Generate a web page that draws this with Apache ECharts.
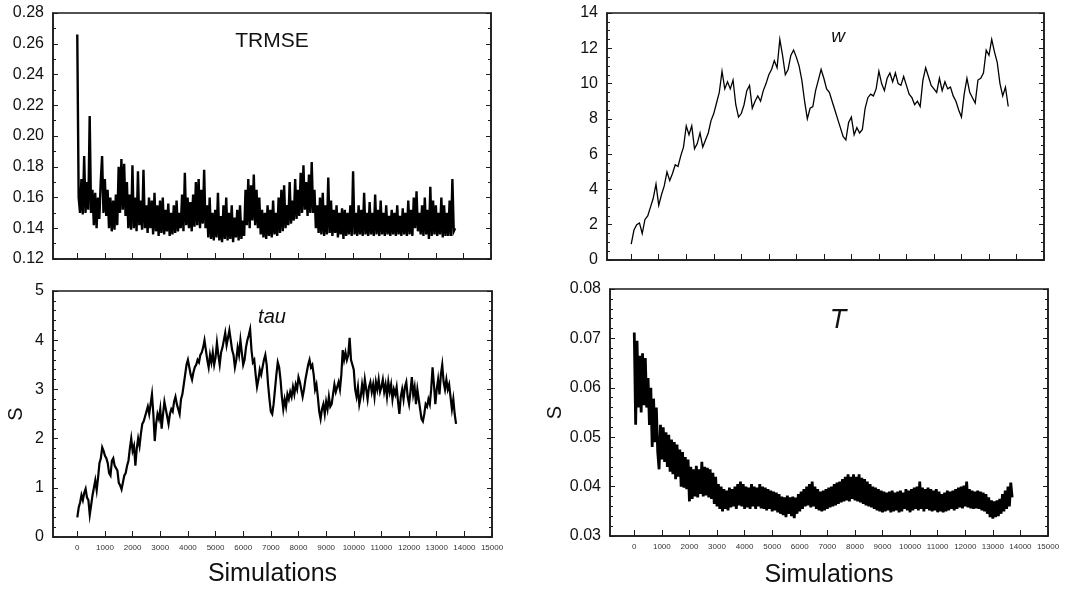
<!DOCTYPE html>
<html><head><meta charset="utf-8">
<script src="https://cdn.jsdelivr.net/npm/echarts@6/dist/echarts.min.js"></script>
<style>html,body{margin:0;padding:0;background:#fff}#c{width:1083px;height:589px}</style>
</head><body><div id="c"></div>
<script>
// ---------- data ----------
const xTickValues = [0,1000,2000,3000,4000,5000,6000,7000,8000,9000,10000,11000,12000,13000,14000,15000];
const sampleStep = 50;   // simulations between TRMSE / tau / T samples
const wStep = 100;       // simulations between w samples

const trmse = [
0.266,0.160,0.150,0.172,0.149,0.187,0.150,0.170,0.152,0.213,
0.150,0.165,0.142,0.163,0.140,0.160,0.146,0.170,0.187,0.150,
0.172,0.148,0.165,0.140,0.160,0.138,0.158,0.139,0.162,0.142,
0.180,0.150,0.185,0.152,0.182,0.148,0.170,0.140,0.162,0.139,
0.181,0.140,0.160,0.138,0.177,0.142,0.158,0.139,0.178,0.140,
0.155,0.137,0.160,0.140,0.158,0.136,0.163,0.138,0.155,0.135,
0.158,0.137,0.160,0.136,0.152,0.138,0.156,0.135,0.150,0.136,
0.155,0.137,0.158,0.138,0.150,0.140,0.162,0.138,0.176,0.142,
0.160,0.140,0.157,0.138,0.162,0.141,0.170,0.142,0.172,0.140,
0.165,0.143,0.178,0.140,0.155,0.134,0.160,0.133,0.150,0.132,
0.152,0.134,0.163,0.132,0.148,0.131,0.155,0.133,0.160,0.132,
0.150,0.133,0.155,0.131,0.147,0.134,0.152,0.132,0.155,0.133,
0.145,0.135,0.165,0.142,0.172,0.140,0.168,0.145,0.175,0.142,
0.165,0.140,0.160,0.136,0.152,0.134,0.150,0.133,0.155,0.135,
0.152,0.134,0.158,0.136,0.150,0.135,0.160,0.137,0.165,0.138,
0.168,0.140,0.155,0.142,0.170,0.143,0.158,0.145,0.172,0.146,
0.165,0.148,0.176,0.150,0.181,0.152,0.170,0.148,0.175,0.150,
0.183,0.150,0.165,0.140,0.155,0.137,0.160,0.136,0.163,0.135,
0.155,0.136,0.173,0.137,0.158,0.135,0.152,0.137,0.155,0.134,
0.150,0.136,0.153,0.133,0.152,0.135,0.150,0.136,0.155,0.135,
0.177,0.136,0.150,0.135,0.155,0.136,0.152,0.135,0.163,0.136,
0.150,0.135,0.157,0.136,0.150,0.135,0.162,0.136,0.152,0.135,
0.158,0.136,0.150,0.135,0.155,0.136,0.148,0.135,0.152,0.136,
0.150,0.135,0.155,0.136,0.148,0.135,0.153,0.136,0.150,0.135,
0.158,0.136,0.152,0.135,0.160,0.140,0.164,0.138,0.150,0.136,
0.155,0.135,0.160,0.136,0.152,0.133,0.167,0.135,0.158,0.136,
0.155,0.135,0.150,0.136,0.160,0.134,0.155,0.135,0.150,0.135,
0.158,0.135,0.172,0.138,0.140
];

const w = [
0.9,1.7,2.0,2.1,1.5,2.3,2.5,3.0,3.5,4.3,
3.1,3.7,4.2,5.0,4.5,4.9,5.4,5.3,5.9,6.4,
7.6,7.1,7.6,6.3,6.6,7.2,6.4,6.8,7.2,7.9,
8.3,8.9,9.5,10.7,9.7,10.1,9.7,10.2,8.8,8.1,
8.3,8.8,9.6,9.9,8.6,9.0,9.3,9.0,9.6,10.0,
10.5,10.8,11.3,10.9,12.5,11.6,10.5,10.8,11.6,11.9,
11.5,11.0,10.2,9.0,8.0,8.6,8.7,9.6,10.2,10.8,
10.3,9.7,9.5,9.0,8.5,8.0,7.5,7.0,6.8,7.8,
8.1,7.1,7.5,7.2,7.4,8.6,9.2,9.4,9.3,9.7,
10.7,10.0,9.6,10.3,10.6,10.1,10.6,10.0,9.9,10.4,
9.9,9.4,9.2,8.8,9.0,8.7,10.2,10.9,10.4,9.9,
9.7,9.5,10.3,9.6,10.1,9.7,9.8,9.3,9.0,8.5,
8.1,9.4,10.3,9.5,9.2,8.9,10.2,10.3,10.6,11.9,
11.6,12.5,11.8,11.2,10.0,9.3,9.8,8.7
];

const tau = [
0.40,0.60,0.70,0.85,0.75,0.90,0.98,0.80,0.75,0.45,
0.65,0.85,1.00,1.15,0.95,1.20,1.50,1.60,1.82,1.75,
1.65,1.60,1.50,1.30,1.25,1.55,1.60,1.45,1.40,1.35,
1.10,1.05,0.97,1.00,1.25,1.30,1.45,1.55,1.80,2.00,
1.75,1.85,1.45,1.80,2.00,1.85,2.10,2.30,2.35,2.45,
2.55,2.65,2.50,2.70,2.90,2.50,1.95,2.30,2.50,2.40,
2.60,2.20,2.50,2.75,2.60,2.45,2.30,2.50,2.60,2.55,
2.75,2.85,2.70,2.60,2.50,2.80,2.90,3.10,3.30,3.50,
3.60,3.45,3.30,3.20,3.35,3.45,3.50,3.60,3.55,3.70,
3.75,3.85,4.00,3.80,3.60,3.45,3.70,3.55,3.75,3.50,
3.65,3.95,3.70,3.50,3.75,3.85,4.00,4.15,3.90,4.05,
4.20,4.00,3.80,3.70,3.45,3.60,3.85,3.70,4.00,3.75,
3.50,3.60,3.85,4.00,4.10,4.22,3.80,3.55,3.60,3.30,
3.05,3.20,3.40,3.30,3.45,3.60,3.70,3.50,3.10,2.80,
2.55,2.50,2.70,3.00,3.30,3.55,3.45,3.20,2.85,2.60,
2.80,2.65,2.90,2.80,2.95,2.85,3.05,2.90,3.10,3.00,
3.25,3.15,3.00,2.85,3.00,3.20,3.35,3.50,3.60,3.45,
3.50,3.30,3.00,3.10,2.85,2.55,2.40,2.60,2.70,2.50,
2.75,2.60,2.85,2.65,2.70,2.90,3.10,2.95,3.05,3.15,
3.00,3.30,3.80,3.60,3.75,3.60,3.70,4.05,3.60,3.50,
3.40,3.00,2.85,3.05,2.70,2.85,3.10,2.90,3.20,3.00,
2.80,3.05,3.15,2.95,3.10,2.85,3.15,3.00,3.20,2.95,
3.05,3.20,2.95,3.10,2.85,3.15,2.95,3.10,2.80,3.00,
2.90,3.05,2.75,2.50,2.85,3.00,2.80,3.05,3.15,2.85,
2.70,2.95,3.25,2.90,3.05,2.70,3.00,2.80,2.60,2.40,
2.35,2.50,2.70,2.65,2.80,2.70,3.00,3.45,3.10,2.70,
3.00,3.20,2.90,3.30,3.50,3.15,3.00,3.20,3.00,3.10,
2.85,2.60,2.80,2.50,2.30
];

const Tvals = [
0.0712,0.0525,0.0695,0.0560,0.0665,0.0550,0.0670,0.0565,0.0660,0.0560,
0.0620,0.0525,0.0600,0.0480,0.0578,0.0490,0.0560,0.0470,0.0435,0.0525,
0.0455,0.0520,0.0450,0.0510,0.0440,0.0505,0.0430,0.0495,0.0425,0.0490,
0.0415,0.0485,0.0420,0.0475,0.0400,0.0470,0.0398,0.0460,0.0395,0.0455,
0.0370,0.0440,0.0375,0.0435,0.0380,0.0442,0.0378,0.0435,0.0385,0.0450,
0.0380,0.0440,0.0382,0.0438,0.0378,0.0435,0.0375,0.0428,0.0365,0.0420,
0.0360,0.0405,0.0355,0.0400,0.0350,0.0395,0.0355,0.0392,0.0352,0.0398,
0.0358,0.0395,0.0360,0.0400,0.0355,0.0405,0.0362,0.0410,0.0360,0.0405,
0.0355,0.0400,0.0358,0.0398,0.0355,0.0405,0.0360,0.0400,0.0355,0.0398,
0.0360,0.0405,0.0356,0.0400,0.0355,0.0398,0.0352,0.0395,0.0355,0.0392,
0.0350,0.0390,0.0352,0.0388,0.0348,0.0385,0.0345,0.0380,0.0342,0.0378,
0.0338,0.0382,0.0345,0.0378,0.0340,0.0380,0.0336,0.0378,0.0345,0.0385,
0.0350,0.0390,0.0355,0.0395,0.0360,0.0400,0.0362,0.0405,0.0358,0.0410,
0.0360,0.0400,0.0355,0.0395,0.0352,0.0390,0.0350,0.0392,0.0352,0.0395,
0.0355,0.0398,0.0358,0.0400,0.0360,0.0405,0.0362,0.0408,0.0365,0.0410,
0.0368,0.0415,0.0370,0.0420,0.0372,0.0425,0.0370,0.0420,0.0375,0.0425,
0.0372,0.0420,0.0370,0.0425,0.0368,0.0418,0.0365,0.0415,0.0362,0.0410,
0.0360,0.0405,0.0358,0.0400,0.0355,0.0398,0.0352,0.0395,0.0350,0.0392,
0.0348,0.0390,0.0350,0.0388,0.0352,0.0390,0.0348,0.0392,0.0350,0.0388,
0.0352,0.0390,0.0348,0.0392,0.0350,0.0388,0.0355,0.0395,0.0352,0.0392,
0.0348,0.0395,0.0352,0.0398,0.0355,0.0400,0.0352,0.0410,0.0355,0.0398,
0.0350,0.0395,0.0355,0.0398,0.0352,0.0395,0.0350,0.0392,0.0352,0.0395,
0.0348,0.0390,0.0350,0.0385,0.0348,0.0388,0.0350,0.0392,0.0352,0.0390,
0.0355,0.0392,0.0352,0.0395,0.0355,0.0398,0.0358,0.0400,0.0356,0.0402,
0.0360,0.0410,0.0358,0.0395,0.0356,0.0392,0.0355,0.0390,0.0356,0.0392,
0.0355,0.0390,0.0352,0.0388,0.0350,0.0385,0.0345,0.0378,0.0338,0.0372,
0.0335,0.0370,0.0338,0.0372,0.0340,0.0375,0.0345,0.0385,0.0350,0.0392,
0.0355,0.0400,0.0360,0.0408,0.0378
];

const panelTitles = ['TRMSE', 'w', 'tau', 'T'];
const yAxisName = 'S';
const xAxisName = 'Simulations';

// ---------- chart ----------
const FONT = '"Liberation Sans", Arial, sans-serif';
const INK = '#1a1a1a';

const grids = [
  {left: 53, top: 13, width: 438, height: 246},
  {left: 607, top: 13, width: 437, height: 247},
  {left: 53, top: 291, width: 439, height: 246},
  {left: 610, top: 289, width: 438, height: 248}
].map(g => Object.assign({show: true, borderColor: INK, borderWidth: 1.5, containLabel: false}, g));

function xAx(gi, bottomRow, gap) {
  return {
    type: 'value', gridIndex: gi, min: -880, max: 15000,
    axisLine: {show: true, onZero: false, lineStyle: {color: INK, width: 1.5}},
    axisTick: {show: true, inside: true, length: 6, customValues: xTickValues, lineStyle: {color: INK, width: 1}},
    axisLabel: {show: bottomRow, customValues: xTickValues, fontSize: 8, color: '#333', margin: 7,
      fontFamily: FONT, formatter: v => String(v)},
    splitLine: {show: false},
    name: bottomRow ? xAxisName : '', nameLocation: 'middle', nameGap: gap,
    nameTextStyle: {fontSize: 25, color: '#111', fontFamily: FONT}
  };
}
function yAx(gi, min, max, interval, minorSplit, fmt, withName, nameGap, right) {
  return {
    type: 'value', gridIndex: gi, min, max, interval, position: right ? 'right' : 'left',
    axisLine: {show: true, onZero: false, lineStyle: {color: INK, width: 1.5}},
    axisTick: {show: true, inside: true, length: 5, lineStyle: {color: INK, width: 1}},
    minorTick: {show: true, splitNumber: minorSplit, length: 3, lineStyle: {color: INK, width: 1}},
    axisLabel: {show: !right, fontSize: 16, color: '#111', margin: 9, fontFamily: FONT, formatter: fmt},
    splitLine: {show: false}, minorSplitLine: {show: false},
    name: withName ? yAxisName : '', nameLocation: 'middle', nameGap: nameGap,
    nameTextStyle: {fontSize: 20, color: '#111', fontFamily: FONT}
  };
}
const f2 = v => v.toFixed(2);
const f0 = v => String(Math.round(v));

const yAxes = [
  yAx(0, 0.12, 0.28, 0.02, 2, f2, false, 0, false),
  yAx(1, 0, 14, 2, 4, f0, false, 0, false),
  yAx(2, 0, 5, 1, 5, f0, true, 27, false),
  yAx(3, 0.03, 0.08, 0.01, 5, f2, true, 44, false),
  yAx(0, 0.12, 0.28, 0.02, 2, f2, false, 0, true),
  yAx(1, 0, 14, 2, 4, f0, false, 0, true),
  yAx(2, 0, 5, 1, 5, f0, false, 0, true),
  yAx(3, 0.03, 0.08, 0.01, 5, f2, false, 0, true)
];

function lineSeries(idx, values, step, width) {
  return {
    type: 'line', xAxisIndex: idx, yAxisIndex: idx,
    data: values.map((v, i) => [i * step, v]),
    showSymbol: false, symbol: 'none', sampling: null, smooth: false,
    lineStyle: {color: '#000', width: width, join: 'miter'}, silent: true, animation: false
  };
}

const titleSpecs = [
  {x: 272, y: 41, size: 21, italic: false},
  {x: 838, y: 37, size: 19, italic: true},
  {x: 272, y: 317, size: 20, italic: true},
  {x: 838, y: 320, size: 27, italic: true}
];

const chart = echarts.init(document.getElementById('c'), null, {renderer: 'canvas'});
chart.setOption({
  animation: false,
  backgroundColor: '#fff',
  grid: grids,
  xAxis: [xAx(0, false, 0), xAx(1, false, 0), xAx(2, true, 25), xAx(3, true, 27)],
  yAxis: yAxes,
  series: [
    lineSeries(0, trmse, sampleStep, 2.4),
    lineSeries(1, w, wStep, 1.3),
    lineSeries(2, tau, sampleStep, 2.2),
    lineSeries(3, Tvals, sampleStep, 2.8)
  ],
  graphic: panelTitles.map((t, i) => ({
    type: 'text', x: titleSpecs[i].x, y: titleSpecs[i].y, silent: true,
    style: {
      text: t, fill: '#111', textAlign: 'center', textVerticalAlign: 'middle',
      font: (titleSpecs[i].italic ? 'italic ' : '') + titleSpecs[i].size + 'px ' + FONT
    }
  }))
});
</script>
</body></html>
